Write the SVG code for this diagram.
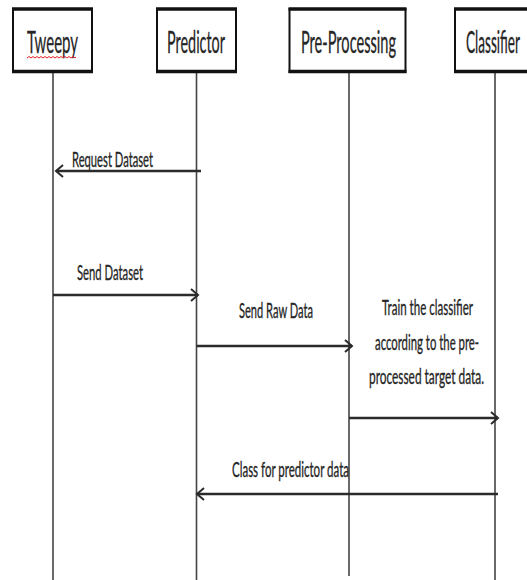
<svg xmlns="http://www.w3.org/2000/svg" width="527" height="580" viewBox="0 0 527 580">
<style>
.box{fill:#fff;stroke:#111;stroke-width:2}
.edge{stroke:#111;stroke-width:3.5}
.life{stroke:#444;stroke-width:1.6;fill:none}
.msg{stroke:#2b2b2b;stroke-width:2.6;fill:none}
.hd{font-family:Lato,"Liberation Sans",sans-serif;font-size:31px;fill:#262626;stroke:#262626;stroke-width:0.3}
.lb{font-family:Lato,"Liberation Sans",sans-serif;font-size:22px;fill:#262626;stroke:#262626;stroke-width:0.35}
</style>
<defs>
<marker id="arr" markerUnits="userSpaceOnUse" markerWidth="12" markerHeight="16" refX="9" refY="8" orient="auto" viewBox="0 0 12 16">
<path d="M2,2 L9,8 L2,14" fill="none" stroke="#2b2b2b" stroke-width="2"/>
</marker>
</defs>
<rect width="527" height="580" fill="#fff"/>
<g id="lifelines">
<line class="life" x1="53" y1="73" x2="53" y2="580"/>
<line class="life" x1="196.5" y1="73" x2="196.5" y2="580"/>
<line class="life" x1="349" y1="73" x2="349" y2="576"/>
<line class="life" x1="495" y1="73" x2="495" y2="580"/>
</g>
<g id="tweepy">
<rect class="box" x="13" y="9" width="79" height="63"/>
<line class="edge" x1="12" y1="9" x2="93" y2="9"/>
<line class="edge" x1="12" y1="71.5" x2="93" y2="71.5"/>
<text class="hd" x="27" y="53" textLength="51" lengthAdjust="spacingAndGlyphs">Tweepy</text>
<path d="M27,58 l2,-1.5 l2,1.5 l2,-1.5 l2,1.5 l2,-1.5 l2,1.5 l2,-1.5 l2,1.5 l2,-1.5 l2,1.5 l2,-1.5 l2,1.5 l2,-1.5 l2,1.5 l2,-1.5 l2,1.5 l2,-1.5 l2,1.5 l2,-1.5 l2,1.5 l2,-1.5 l2,1.5 l2,-1.5 l2,1.5 l1,-1" fill="none" stroke="#e32020" stroke-width="1"/>
</g>
<g id="predictor">
<rect class="box" x="157" y="9" width="79" height="63"/>
<line class="edge" x1="156" y1="9" x2="237" y2="9"/>
<line class="edge" x1="156" y1="71.5" x2="237" y2="71.5"/>
<text class="hd" x="167" y="53" textLength="58" lengthAdjust="spacingAndGlyphs">Predictor</text>
</g>
<g id="preprocessing">
<rect class="box" x="289.5" y="9" width="116" height="63"/>
<line class="edge" x1="288.5" y1="9" x2="406.5" y2="9"/>
<line class="edge" x1="288.5" y1="71.5" x2="406.5" y2="71.5"/>
<text class="hd" x="301" y="53" textLength="95" lengthAdjust="spacingAndGlyphs">Pre-Processing</text>
</g>
<g id="classifier">
<rect class="box" x="455" y="9" width="100" height="63"/>
<line class="edge" x1="454" y1="9" x2="560" y2="9"/>
<line class="edge" x1="454" y1="71.5" x2="560" y2="71.5"/>
<text class="hd" x="466" y="53" textLength="54" lengthAdjust="spacingAndGlyphs">Classifier</text>
</g>
<g id="connectors">
<line class="msg" x1="201" y1="171" x2="56" y2="171" marker-end="url(#arr)"/>
<line class="msg" x1="53" y1="295" x2="198" y2="295" marker-end="url(#arr)"/>
<line class="msg" x1="196.5" y1="346" x2="352" y2="346" marker-end="url(#arr)"/>
<line class="msg" x1="349" y1="418" x2="498" y2="418" marker-end="url(#arr)"/>
<line class="msg" x1="498" y1="494" x2="197" y2="494" marker-end="url(#arr)"/>
</g>
<g id="labels">
<text class="lb" x="72" y="167" textLength="81" lengthAdjust="spacingAndGlyphs">Request Dataset</text>
<text class="lb" x="77" y="280" textLength="66" lengthAdjust="spacingAndGlyphs">Send Dataset</text>
<text class="lb" x="239" y="318" textLength="74" lengthAdjust="spacingAndGlyphs">Send Raw Data</text>
<text class="lb" x="382" y="315" textLength="91" lengthAdjust="spacingAndGlyphs">Train the classifier</text>
<text class="lb" x="375" y="350" textLength="104" lengthAdjust="spacingAndGlyphs">according to the pre-</text>
<text class="lb" x="369" y="384" textLength="115" lengthAdjust="spacingAndGlyphs">processed target data.</text>
<text class="lb" x="232" y="477" textLength="117" lengthAdjust="spacingAndGlyphs">Class for predictor data</text>
</g>
</svg>
